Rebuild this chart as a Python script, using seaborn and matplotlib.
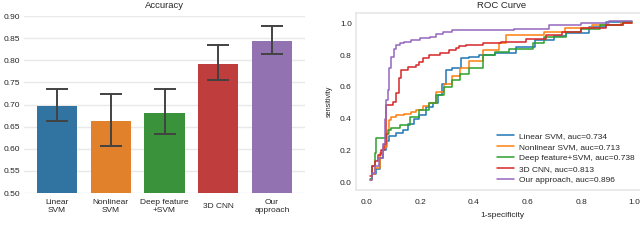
import matplotlib
matplotlib.use('Agg')
import matplotlib.pyplot as plt
import numpy as np
import pandas as pd
import seaborn as sns

#%% Data - accuracy with error bars
models = ['Linear\nSVM', 'Nonlinear\nSVM', 'Deep feature\n+SVM', '3D CNN', 'Our\napproach']
acc = [0.697, 0.663, 0.681, 0.792, 0.843]
acc_lo = [0.663, 0.607, 0.633, 0.755, 0.813]
acc_hi = [0.734, 0.723, 0.735, 0.834, 0.877]

#%% Data - ROC curves (step vertices: at fpr x, tpr jumps to y)
roc_names = ['Linear SVM', 'Nonlinear SVM', 'Deep feature+SVM', '3D CNN', 'Our approach']
auc = [0.734, 0.713, 0.738, 0.813, 0.896]

fpr_linear = [0.015, 0.02, 0.036, 0.048, 0.06, 0.073, 0.085, 0.11, 0.135, 0.154, 0.178, 0.197,
              0.22, 0.247, 0.266, 0.28, 0.297, 0.32, 0.353, 0.38, 0.42, 0.48, 0.557, 0.63,
              0.70, 0.744, 0.83, 0.893, 0.99]
tpr_linear = [0.02, 0.05, 0.08, 0.15, 0.20, 0.26, 0.29, 0.31, 0.33, 0.365, 0.40, 0.42,
              0.47, 0.50, 0.55, 0.62, 0.706, 0.72, 0.78, 0.79, 0.80, 0.81, 0.853, 0.895,
              0.92, 0.937, 0.979, 1.01, 1.01]

fpr_nonlinear = [0.011, 0.02, 0.03, 0.048, 0.06, 0.075, 0.082, 0.09, 0.11, 0.14, 0.165, 0.185,
                 0.21, 0.234, 0.26, 0.29, 0.32, 0.35, 0.38, 0.433, 0.495, 0.52, 0.66, 0.74,
                 0.84, 0.95, 0.99]
tpr_nonlinear = [0.013, 0.05, 0.088, 0.18, 0.22, 0.30, 0.39, 0.41, 0.42, 0.43, 0.44, 0.455,
                 0.48, 0.50, 0.57, 0.62, 0.67, 0.72, 0.76, 0.83, 0.874, 0.926, 0.947, 0.968,
                 0.99, 1.005, 1.005]

fpr_deep = [0.012, 0.02, 0.03, 0.036, 0.071, 0.08, 0.09, 0.123, 0.16, 0.197, 0.234, 0.26,
            0.29, 0.32, 0.35, 0.38, 0.433, 0.48, 0.53, 0.62, 0.66, 0.744, 0.80, 0.87, 0.955, 0.99]
tpr_deep = [0.02, 0.10, 0.18, 0.275, 0.30, 0.33, 0.34, 0.36, 0.41, 0.454, 0.50, 0.55,
            0.60, 0.64, 0.68, 0.72, 0.80, 0.82, 0.84, 0.874, 0.916, 0.947, 0.965, 0.99, 1.01, 1.01]

fpr_cnn = [0.011, 0.02, 0.03, 0.042, 0.055, 0.065, 0.071, 0.098, 0.11, 0.12, 0.128, 0.154,
           0.185, 0.197, 0.21, 0.234, 0.272, 0.309, 0.334, 0.346, 0.371, 0.433, 0.50, 0.595,
           0.669, 0.73, 0.80, 0.893, 0.955, 0.99]
tpr_cnn = [0.04, 0.10, 0.13, 0.17, 0.20, 0.24, 0.485, 0.506, 0.56, 0.653, 0.706, 0.727,
           0.737, 0.758, 0.779, 0.80, 0.815, 0.832, 0.846, 0.855, 0.863, 0.874, 0.88, 0.90,
           0.926, 0.947, 0.968, 0.989, 1.0, 1.0]

fpr_ours = [0.012, 0.02, 0.03, 0.045, 0.062, 0.068, 0.073, 0.078, 0.085, 0.092, 0.101, 0.11,
            0.123, 0.14, 0.165, 0.20, 0.235, 0.26, 0.284, 0.32, 0.36, 0.55, 0.68, 0.80, 0.905, 0.99]
tpr_ours = [0.01, 0.06, 0.10, 0.15, 0.24, 0.40, 0.52, 0.58, 0.72, 0.79, 0.84, 0.862,
            0.874, 0.885, 0.895, 0.905, 0.916, 0.93, 0.947, 0.955, 0.96, 0.965, 0.99, 1.0, 1.012, 1.012]

#%% Style
sns.set_theme(style='whitegrid')
plt.rcParams['font.family'] = ['Liberation Sans', 'DejaVu Sans']

fig = plt.figure(figsize=(6.4, 2.42), dpi=100)
ax1 = fig.add_axes([24/640, 49/242, 281/640, 177/242])
ax2 = fig.add_axes([356/640, 52/242, 292/640, 177/242])

#%% Left: accuracy bars
df_acc = pd.DataFrame({'model': models, 'acc': acc})
sns.barplot(data=df_acc, x='model', y='acc', hue='model', palette='tab10',
            legend=False, width=0.75, linewidth=0, ax=ax1)
xpos = np.arange(len(models))
err = [np.array(acc) - np.array(acc_lo), np.array(acc_hi) - np.array(acc)]
ax1.errorbar(xpos, acc, yerr=err, fmt='none', ecolor='.26', elinewidth=1.4,
             capsize=7.8, capthick=1.4)
ax1.set_ylim(0.5, 0.9)
ax1.set_yticks(np.arange(0.5, 0.901, 0.05))
ax1.set_yticklabels([f'{v:.2f}' for v in np.arange(0.5, 0.901, 0.05)])
ax1.set_xlabel('')
ax1.set_ylabel('')
ax1.set_title('Accuracy', fontsize=6.8, pad=6)
ax1.grid(axis='x', visible=False)
ax1.grid(axis='y', color='#e8e8e8', linewidth=1)
ax1.tick_params(axis='x', labelsize=6, pad=10, length=0)
ax1.tick_params(axis='y', labelsize=6, pad=3, length=0)
for lbl in ax1.get_xticklabels():
    lbl.set_va('center')
for s in ax1.spines.values():
    s.set_visible(False)

#%% Right: ROC curves
labels = [f'{n}, auc={a:.3f}' for n, a in zip(roc_names, auc)]
curves = [(fpr_linear, tpr_linear), (fpr_nonlinear, tpr_nonlinear), (fpr_deep, tpr_deep),
          (fpr_cnn, tpr_cnn), (fpr_ours, tpr_ours)]
frames = []
for lab, (f, t) in zip(labels, curves):
    frames.append(pd.DataFrame({'fpr': f, 'tpr': t, 'model': lab}))
df_roc = pd.concat(frames, ignore_index=True)

sns.lineplot(data=df_roc, x='fpr', y='tpr', hue='model', hue_order=labels,
             palette=sns.color_palette('tab10', 5), estimator=None, sort=False,
             drawstyle='steps-post', linewidth=1.1, ax=ax2)
ax2.set_xlim(-0.04, 1.05)
ax2.set_ylim(-0.05, 1.065)
ax2.set_xticks([0.0, 0.2, 0.4, 0.6, 0.8, 1.0])
ax2.set_yticks([0.0, 0.2, 0.4, 0.6, 0.8, 1.0])
ax2.grid(False)
ax2.set_title('ROC Curve', fontsize=6.8, pad=3.5)
ax2.set_xlabel('1-specificity', fontsize=6, labelpad=4)
ax2.set_ylabel('sensitivity', fontsize=5.2, labelpad=5)
ax2.tick_params(axis='x', labelsize=6, pad=6.5, length=0)
ax2.tick_params(axis='y', labelsize=6, pad=3, length=0)
for s in ax2.spines.values():
    s.set_color('#e6e6e6')
    s.set_linewidth(1.2)
ax2.legend(loc='lower right', bbox_to_anchor=(0.967, 0.015), borderaxespad=0,
           fontsize=6, frameon=False, handlelength=2.1, handletextpad=0.6,
           labelspacing=0.38, title=None)

fig.savefig('out.png', dpi=100)
